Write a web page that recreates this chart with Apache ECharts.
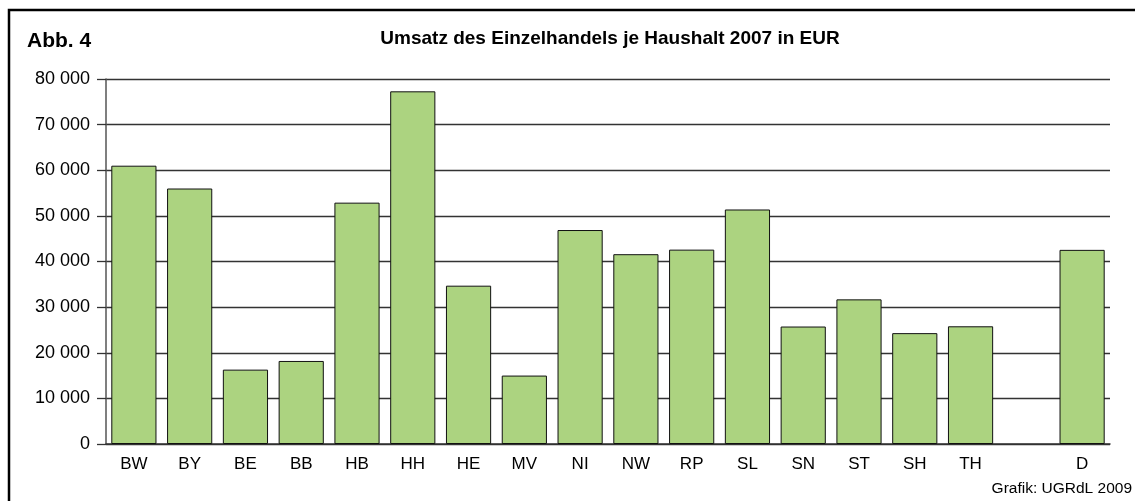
<!DOCTYPE html>
<html>
<head>
<meta charset="utf-8">
<script src="https://cdn.jsdelivr.net/npm/echarts@6/dist/echarts.min.js"></script>
<style>
	html, body { margin: 0; padding: 0; background: #fff; }
	#main { width: 1135px; height: 501px; }
</style>
</head>
<body>
<div id="main"></div>
<script>
// Länder (leere Kategorie als Abstand vor D)
var laender = ['BW', 'BY', 'BE', 'BB', 'HB', 'HH', 'HE', 'MV', 'NI', 'NW', 'RP', 'SL', 'SN', 'ST', 'SH', 'TH', '', 'D'];
// Umsatz je Haushalt in EUR
var umsatz = [61000, 56000, 16300, 18200, 52900, 77300, 34700, 15000, 46900, 41600, 42600, 51400, 25750, 31700, 24300, 25800, null, 42550];
var yMax = 80000;
var yStep = 10000;

function tausender(v) {
	return String(v).replace(/\B(?=(\d{3})+(?!\d))/g, ' ');
}

var chart = echarts.init(document.getElementById('main'));
var option = {
	animation: false,
	textStyle: { fontFamily: 'Liberation Sans, Arial, sans-serif' },
	grid: { left: 106, right: 25, top: 79, bottom: 57 },
	graphic: [
		// Rahmen
		{ type: 'rect', shape: { x: 9, y: 10, width: 1140, height: 500 }, style: { fill: 'none', stroke: '#000', lineWidth: 2.5 } },
		{ type: 'text', left: 27, top: 31, style: { text: 'Abb. 4', font: 'bold 21px Liberation Sans, Arial, sans-serif', fill: '#000' } },
		{ type: 'text', x: 610, y: 29, style: { text: 'Umsatz des Einzelhandels je Haushalt 2007 in EUR', textAlign: 'center', font: 'bold 19px Liberation Sans, Arial, sans-serif', fill: '#000' } },
		{ type: 'text', right: 3, top: 481, style: { text: 'Grafik: UGRdL 2009', font: '15.5px Liberation Sans, Arial, sans-serif', fill: '#000' } }
	],
	xAxis: {
		type: 'category',
		data: laender,
		axisLine: { lineStyle: { color: '#333', width: 1.5 } },
		axisTick: { show: false },
		axisLabel: { color: '#000', fontSize: 17, margin: 12 }
	},
	yAxis: {
		type: 'value',
		min: 0,
		max: yMax,
		interval: yStep,
		axisLine: { show: true, lineStyle: { color: '#555', width: 1.5 } },
		axisTick: { show: true, length: 9, lineStyle: { color: '#333', width: 1.3 } },
		axisLabel: { color: '#000', fontSize: 18, margin: 16, formatter: tausender },
		splitLine: { lineStyle: { color: '#333', width: 1.3 } }
	},
	series: [{
		type: 'bar',
		data: umsatz,
		barCategoryGap: '19%',
		itemStyle: { color: '#acd380', borderColor: '#111', borderWidth: 1 }
	}]
};
chart.setOption(option);
</script>
</body>
</html>
